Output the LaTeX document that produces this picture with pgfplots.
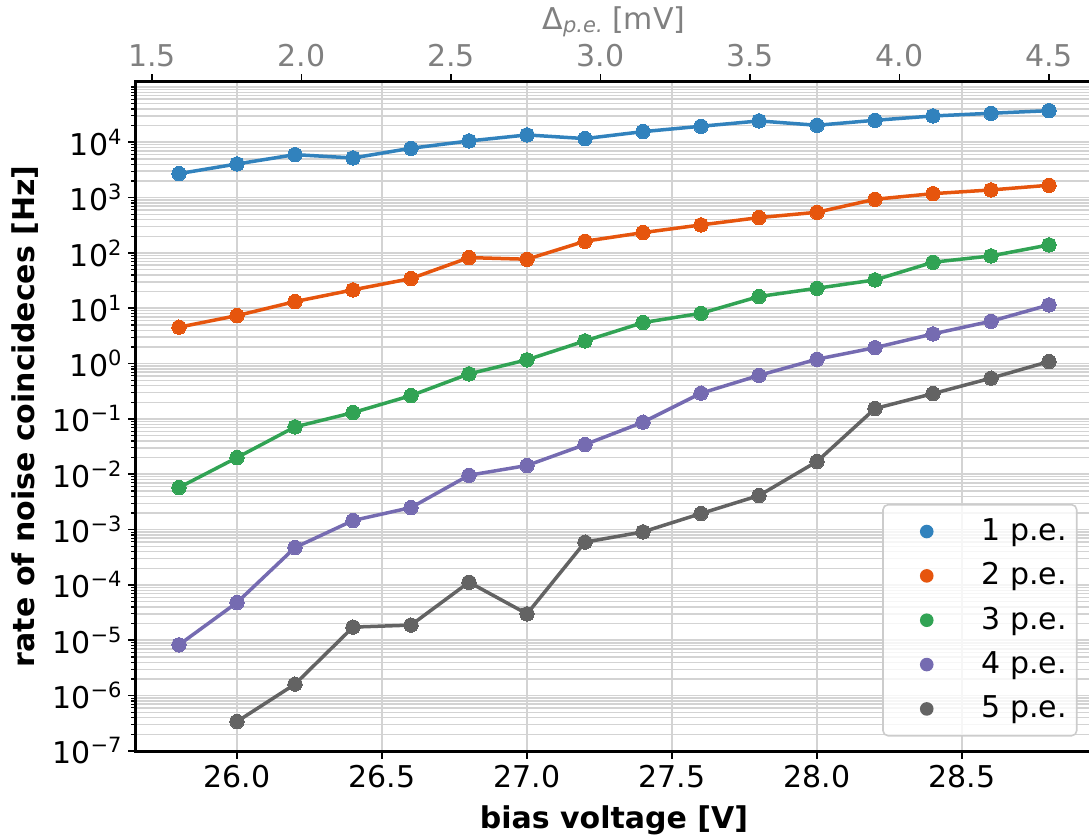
\documentclass[border=0pt]{standalone}
\usepackage{fontspec}
\setmainfont{DejaVu Sans}
\usepackage{pgfplots}
\pgfplotsset{compat=1.18}
\definecolor{c1}{HTML}{3182BD}
\definecolor{c2}{HTML}{E6550D}
\definecolor{c3}{HTML}{31A354}
\definecolor{c4}{HTML}{756BB1}
\definecolor{c5}{HTML}{636363}
\definecolor{gridc}{HTML}{D3D3D3}
\definecolor{legc}{HTML}{CCCCCC}
\definecolor{toptxt}{HTML}{808080}
\newcommand\fs{\fontsize{15bp}{18bp}\selectfont}
\newcommand\sups[1]{10\raisebox{5.5bp}{\fontsize{10.5bp}{12bp}\selectfont #1}}
\begin{document}
\begin{tikzpicture}[font=\fs]
\begin{axis}[
  name=main,
  scale only axis,
  width=478.5bp, height=335.2bp,
  xmin=25.65, xmax=28.95,
  ymode=log, ymin=9.77e-8, ymax=1.274e5,
  axis line style={line width=1.5bp},
  tick align=outside,
  xtick pos=bottom, ytick pos=left,
  xtick={26,26.5,27,27.5,28,28.5},
  xticklabels={26.0,26.5,27.0,27.5,28.0,28.5},
  ytick={1e-7,1e-6,1e-5,1e-4,1e-3,1e-2,1e-1,1,10,100,1000,10000},
  yticklabels={\sups{−7},\sups{−6},\sups{−5},\sups{−4},\sups{−3},\sups{−2},\sups{−1},\sups{0},\sups{1},\sups{2},\sups{3},\sups{4}},
  minor ytick={2e-7,3e-7,4e-7,5e-7,6e-7,7e-7,8e-7,9e-7,
               2e-6,3e-6,4e-6,5e-6,6e-6,7e-6,8e-6,9e-6,
               2e-5,3e-5,4e-5,5e-5,6e-5,7e-5,8e-5,9e-5,
               2e-4,3e-4,4e-4,5e-4,6e-4,7e-4,8e-4,9e-4,
               2e-3,3e-3,4e-3,5e-3,6e-3,7e-3,8e-3,9e-3,
               2e-2,3e-2,4e-2,5e-2,6e-2,7e-2,8e-2,9e-2,
               0.2,0.3,0.4,0.5,0.6,0.7,0.8,0.9,
               2,3,4,5,6,7,8,9,
               20,30,40,50,60,70,80,90,
               200,300,400,500,600,700,800,900,
               2000,3000,4000,5000,6000,7000,8000,9000,
               20000,30000,40000,50000,60000,70000,80000,90000,100000},
  major tick length=3.5bp, minor tick length=2bp,
  every major tick/.append style={line width=0.8bp, black},
  every minor tick/.append style={line width=0.6bp, black},
  xmajorgrids, ymajorgrids, yminorgrids,
  major grid style={gridc, line width=0.8bp},
  minor grid style={gridc, line width=0.7bp},
  xlabel={\bfseries bias voltage [V]},
  ylabel={\bfseries rate of noise coincideces [Hz]},
  xlabel style={at={(axis description cs:0.5,-0.11411)}, anchor=base},
  ylabel style={at={(axis description cs:-0.10502,0.5)}, anchor=base},
  legend style={at={(axis description cs:1,0)}, anchor=south east,
    xshift=-7.5bp, yshift=7.5bp, draw=legc, line width=0.8bp,
    rounded corners=2.5bp, fill=white, fill opacity=0.8, text opacity=1,
    draw opacity=1, inner xsep=0bp, inner ysep=5.9bp, row sep=7.17bp,
    font=\fs, cells={anchor=west},
    nodes={inner xsep=5bp, inner ysep=0bp, text height=12bp, text depth=3bp}},
  legend image code/.code={\path (-21bp,0bp) (21.5bp,0bp);\fill[#1, fill opacity=1, draw=none] (0bp,0bp) circle (3.4bp);},
  every axis plot/.append style={line width=1.75bp, mark=*, mark size=3.6bp},
]
\addplot[c1, mark options={fill=c1, draw=c1, line width=0pt}] coordinates {
(25.8,2710) (26.0,4050) (26.2,5970) (26.4,5200) (26.6,7790) (26.8,10550)
(27.0,13560) (27.2,11640) (27.4,15560) (27.6,19450) (27.8,24270) (28.0,20270)
(28.2,24950) (28.4,29850) (28.6,33400) (28.8,37240)};
\addlegendentry{1 p.e.}
\addplot[c2, mark options={fill=c2, draw=c2, line width=0pt}] coordinates {
(25.8,4.55) (26.0,7.36) (26.2,13.2) (26.4,21.5) (26.6,34.4) (26.8,82.3)
(27.0,76.9) (27.2,162.6) (27.4,232.8) (27.6,320.6) (27.8,434.5) (28.0,543)
(28.2,933) (28.4,1178) (28.6,1374) (28.8,1671)};
\addlegendentry{2 p.e.}
\addplot[c3, mark options={fill=c3, draw=c3, line width=0pt}] coordinates {
(25.8,5.75e-3) (26.0,2.0e-2) (26.2,7.18e-2) (26.4,0.130) (26.6,0.264) (26.8,0.652)
(27.0,1.17) (27.2,2.57) (27.4,5.51) (27.6,8.11) (27.8,16.3) (28.0,23.0)
(28.2,32.5) (28.4,67.9) (28.6,88.3) (28.8,139.6)};
\addlegendentry{3 p.e.}
\addplot[c4, mark options={fill=c4, draw=c4, line width=0pt}] coordinates {
(25.8,8.28e-6) (26.0,4.81e-5) (26.2,4.74e-4) (26.4,1.46e-3) (26.6,2.5e-3) (26.8,9.6e-3)
(27.0,1.44e-2) (27.2,3.44e-2) (27.4,8.73e-2) (27.6,0.292) (27.8,0.612) (28.0,1.20)
(28.2,1.94) (28.4,3.44) (28.6,5.83) (28.8,11.5)};
\addlegendentry{4 p.e.}
\addplot[c5, mark options={fill=c5, draw=c5, line width=0pt}] coordinates {
(26.0,3.4e-7) (26.2,1.61e-6) (26.4,1.73e-5) (26.6,1.88e-5) (26.8,1.12e-4)
(27.0,3.0e-5) (27.2,5.93e-4) (27.4,9.1e-4) (27.6,1.95e-3) (27.8,4.12e-3) (28.0,1.70e-2)
(28.2,0.154) (28.4,0.287) (28.6,0.545) (28.8,1.09)};
\addlegendentry{5 p.e.}
\end{axis}
\begin{axis}[
  scale only axis,
  width=478.5bp, height=335.2bp,
  xmin=1.4448, xmax=4.6455,
  ymin=0, ymax=1,
  axis x line*=top, axis y line=none,
  axis line style={line width=1.5bp},
  tick align=outside,
  major tick length=3.5bp,
  every major tick/.append style={line width=0.8bp, black},
  xtick={1.5,2,2.5,3,3.5,4,4.5},
  xticklabels={1.5,2.0,2.5,3.0,3.5,4.0,4.5},
  xticklabel style={text=toptxt},
  xlabel={Δ\raisebox{-1.5bp}{\fontsize{10.5bp}{12bp}\selectfont\itshape p.e.} [mV]},
  xlabel style={at={(axis description cs:0.5,1.0762)}, anchor=base, text=toptxt},
]
\end{axis}
\pgfresetboundingbox
\path (main.south west) ++(-67.75bp,-41.75bp) rectangle ++(544.5bp,417.5bp);
\end{tikzpicture}
\end{document}
